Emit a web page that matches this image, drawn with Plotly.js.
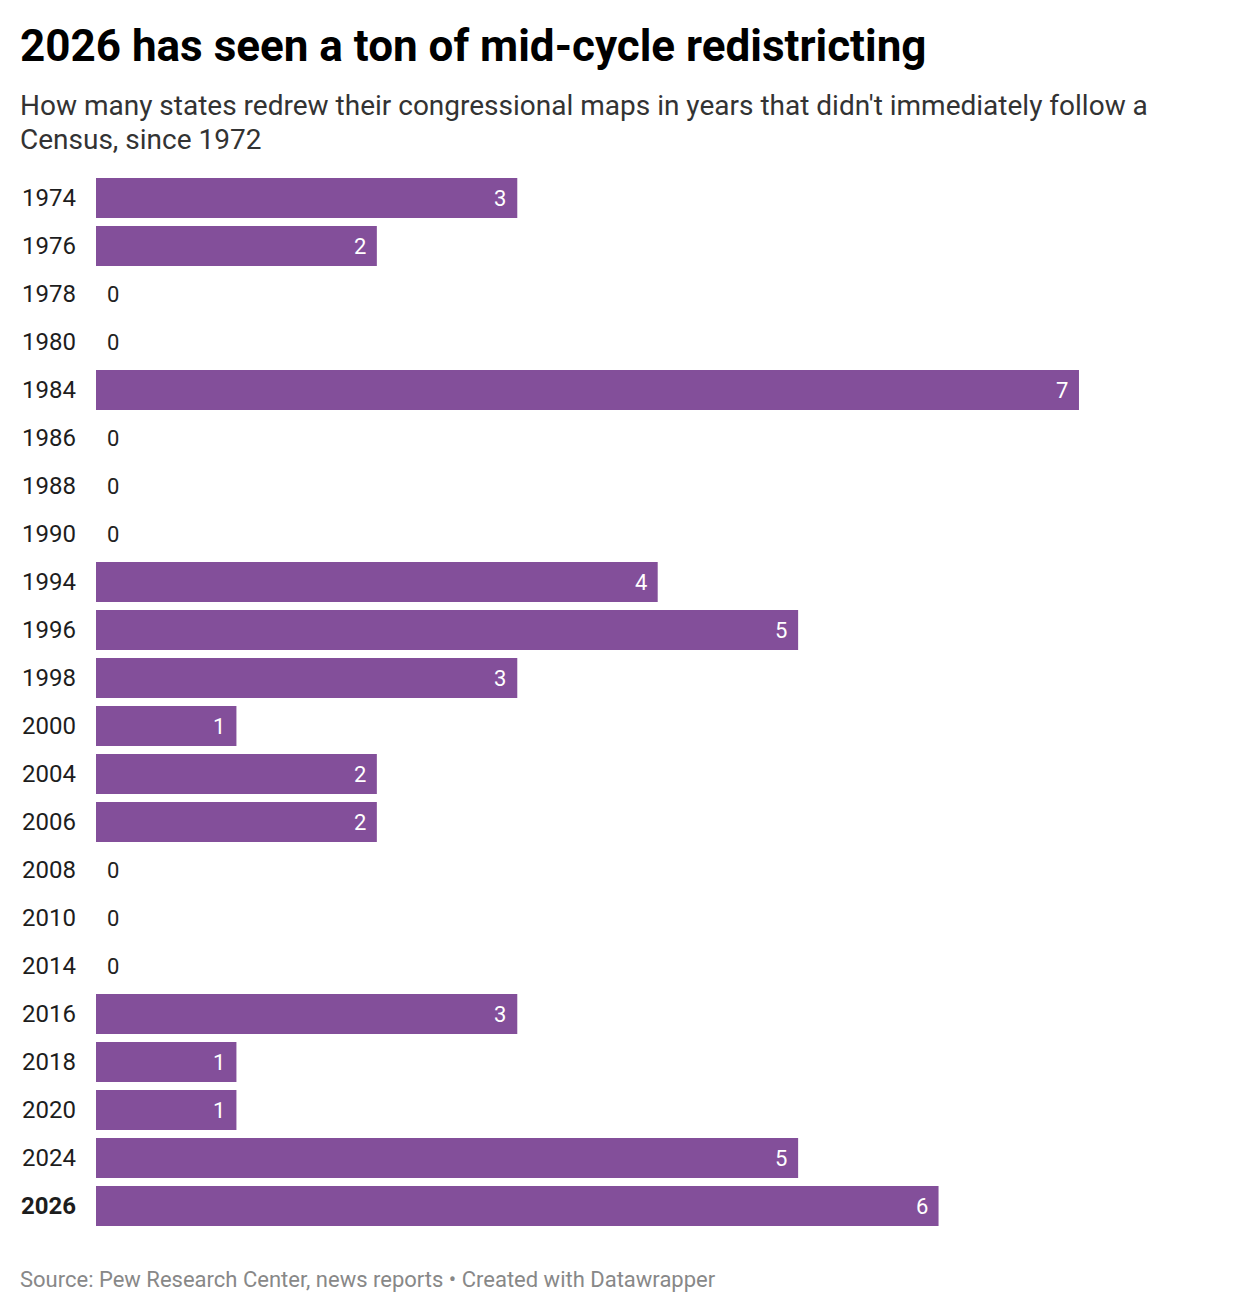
<!DOCTYPE html>
<html>
<head>
<meta charset="utf-8">
<script src="https://cdn.plot.ly/plotly-3.0.1.min.js"></script>
<style>html,body{margin:0;padding:0;background:#fff;}#chart{width:1240px;height:1312px;}</style>
</head>
<body>
<div id="chart"></div>
<script>
const years = ["1974","1976","1978","1980","1984","1986","1988","1990","1994","1996","1998","2000","2004","2006","2008","2010","2014","2016","2018","2020","2024","2026"];
const counts = [3,2,0,0,7,0,0,0,4,5,3,1,2,2,0,0,0,3,1,1,5,6];
const highlightYear = "2026";
const tickLabels = years.map(y => y === highlightYear ? "<b>" + y + "</b>" : y);
const idx = years.map((_, i) => i);

const W = 1240, H = 1312;
const mL = 96, mR = 22, mT = 174, mB = 82;
const pw = W - mL - mR, ph = H - mT - mB;
const px = x => (x - mL) / pw;
const py = y => (H - mB - y) / ph;

const purple = "#834F9A";
const FONT = "Roboto, 'Noto Sans', Arial, sans-serif";

const valueAnns = idx.map(i => {
  const v = counts[i];
  if (v > 0) {
    return {x: v, y: i, xref: "x", yref: "y", text: String(v), showarrow: false,
      xanchor: "right", yanchor: "middle", xshift: -9,
      font: {family: FONT, size: 22, color: "#ffffff"}};
  }
  return {x: 0, y: i, xref: "x", yref: "y", text: String(v), showarrow: false,
    xanchor: "left", yanchor: "middle", xshift: 9,
    font: {family: FONT, size: 22, color: "#222222"}};
});

const textAnns = [
  {xref: "paper", yref: "paper", x: px(18), y: py(46), xanchor: "left", yanchor: "middle",
   text: "<b>2026 has seen a ton of mid-cycle redistricting</b>", showarrow: false,
   font: {family: FONT, size: 44, color: "#000000"}},
  {xref: "paper", yref: "paper", x: px(18), y: py(106), xanchor: "left", yanchor: "middle",
   text: "How many states redrew their congressional maps in years that didn't immediately follow a",
   showarrow: false, font: {family: FONT, size: 28, color: "#333333"}},
  {xref: "paper", yref: "paper", x: px(18), y: py(140), xanchor: "left", yanchor: "middle",
   text: "Census, since 1972",
   showarrow: false, font: {family: FONT, size: 28, color: "#333333"}},
  {xref: "paper", yref: "paper", x: px(18), y: py(1279), xanchor: "left", yanchor: "middle",
   text: "Source: Pew Research Center, news reports • Created with Datawrapper", showarrow: false,
   font: {family: FONT, size: 22, color: "#888888"}}
];

const trace = {
  type: "bar", orientation: "h", x: counts, y: idx,
  marker: {color: purple}, hoverinfo: "none", showlegend: false
};

const layout = {
  width: W, height: H,
  margin: {l: mL, r: mR, t: mT, b: mB, pad: 0},
  paper_bgcolor: "#ffffff", plot_bgcolor: "#ffffff",
  bargap: 8/48,
  xaxis: {range: [0, 7.99], autorange: false, showgrid: false, zeroline: false, showticklabels: false, showline: false, fixedrange: true},
  yaxis: {type: "linear", range: [years.length - 0.5, -0.5], autorange: false,
    tickmode: "array", tickvals: idx, ticktext: tickLabels,
    showgrid: false, zeroline: false, showline: false, ticks: "", ticklabelstandoff: 19,
    tickfont: {family: FONT, size: 24, color: "#1d1d1d"}, fixedrange: true},
  annotations: valueAnns.concat(textAnns),
  font: {family: FONT}
};

Plotly.newPlot("chart", [trace], layout, {displayModeBar: false, staticPlot: true});
</script>
</body>
</html>
